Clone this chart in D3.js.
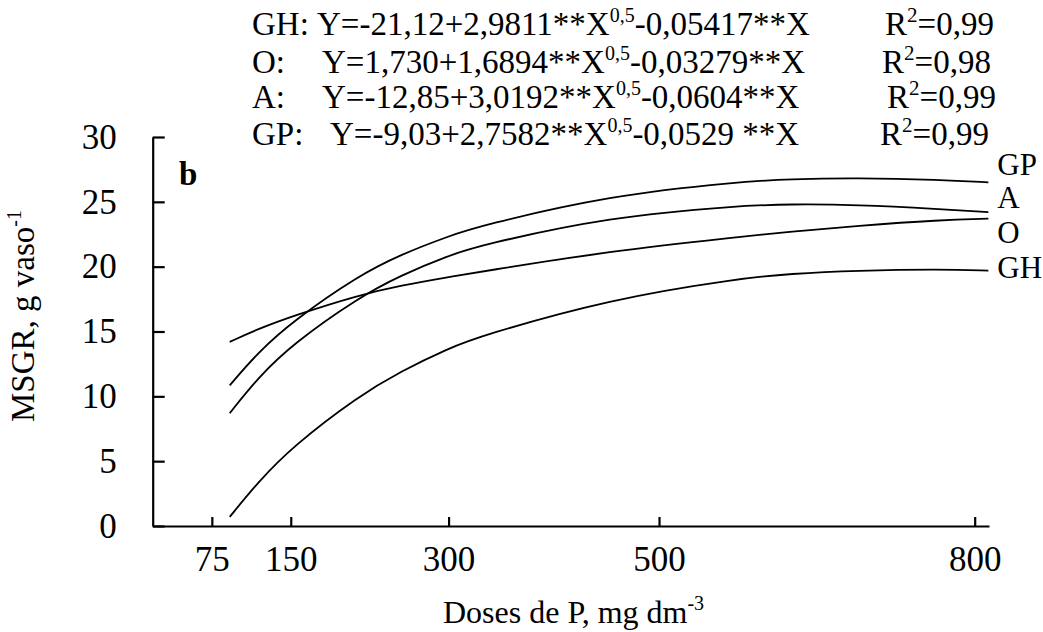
<!DOCTYPE html>
<html>
<head>
<meta charset="utf-8">
<script src="https://cdn.jsdelivr.net/npm/d3@7"></script>
<style>
  body { margin: 0; background: #fff; }
  svg text { font-family: "Liberation Serif", "Times New Roman", serif; fill: #000; }
  .axis path, .axis line { stroke: #000; stroke-width: 2.2; }
  .curve { fill: none; stroke: #000; stroke-width: 1.8; }
</style>
</head>
<body>
<div id="container"></div>
<script>
// doses of P (axis units) where the curves were read
var doses = [92, 119, 152, 214, 255, 300, 330, 453, 577, 624, 688, 767, 813];
// MSGR, g vaso-1
var seriesGH = [0.7, 3.4, 6.15, 10.0, 11.95, 13.7, 14.65, 17.5, 19.1, 19.45, 19.7, 19.8, 19.7];
var seriesO  = [14.2, 15.2, 16.2, 17.8, 18.55, 19.2, 19.6, 21.2, 22.3, 22.7, 23.15, 23.6, 23.7];
var seriesA  = [8.7, 11.45, 14.05, 17.6, 19.35, 20.85, 21.65, 23.85, 24.7, 24.82, 24.78, 24.45, 24.2];
var seriesGP = [10.85, 13.4, 15.8, 19.3, 20.95, 22.35, 23.15, 25.5, 26.55, 26.75, 26.85, 26.7, 26.5];
var seriesNames = ["GP", "A", "O", "GH"];

var xTicks = [75, 150, 300, 500, 800];
var yTicks = [0, 5, 10, 15, 20, 25, 30];

// equation block
var eqNames = ["GH:", "O:", "A:", "GP:"];
var eqStart = ["Y=-21,12+2,9811**X", "Y=1,730+1,6894**X", "Y=-12,85+3,0192**X", "Y=-9,03+2,7582**X"];
var eqEnd = ["-0,05417**X", "-0,03279**X", "-0,0604**X", "-0,0529 **X"];
var r2Values = ["0,99", "0,98", "0,99", "0,99"];

var width = 1043, height = 632;
var svg = d3.select("#container").append("svg")
  .attr("width", width)
  .attr("height", height);

var x = d3.scaleLinear().domain([18.8, 813.6]).range([152.7, 989]);
var y = d3.scaleLinear().domain([0, 30]).range([526, 137]);

// axes
var xAxis = d3.axisBottom(x).tickValues(xTicks).tickFormat(d3.format("d"))
  .tickSizeInner(-9).tickSizeOuter(0).tickPadding(20);
var yAxis = d3.axisLeft(y).tickValues(yTicks).tickFormat(d3.format("d"))
  .tickSizeInner(-12).tickSizeOuter(0).tickPadding(36);

var gx = svg.append("g")
  .attr("class", "x axis")
  .attr("transform", "translate(0," + y(0) + ")")
  .call(xAxis);
gx.selectAll("text").style("font-size", "35px");

var gy = svg.append("g")
  .attr("class", "y axis")
  .attr("transform", "translate(" + x.range()[0] + ",0)")
  .call(yAxis);
gy.selectAll("text").style("font-size", "35px");

// curves
var data = {
  GH: seriesGH, O: seriesO, A: seriesA, GP: seriesGP
};
var line = d3.line()
  .x(function (d) { return x(d[0]); })
  .y(function (d) { return y(d[1]); })
  .curve(d3.curveBasis);

// label nudges so they sit like the original
var labelDy = { GP: -7, A: -4, O: 24, GH: 7 };

seriesNames.forEach(function (name) {
  var pts = doses.map(function (dd, i) { return [dd, data[name][i]]; });
  svg.append("path")
    .attr("class", "curve")
    .attr("d", line(pts));
  var last = pts[pts.length - 1];
  svg.append("text")
    .attr("x", x(last[0]) + 9)
    .attr("y", y(last[1]) + labelDy[name])
    .style("font-size", "31px")
    .text(name);
});

// panel letter
svg.append("text")
  .attr("x", 179)
  .attr("y", 185)
  .style("font-size", "33px")
  .style("font-weight", "bold")
  .text("b");

// equations
var eqBase = [34.5, 72.5, 107.5, 145];
var eqYx = [317, 322, 322, 330];
var eqRx = [885, 882, 887, 880];
eqNames.forEach(function (nm, i) {
  svg.append("text").attr("x", 252).attr("y", eqBase[i])
    .style("font-size", "33px").text(nm);
  var t = svg.append("text").attr("x", eqYx[i]).attr("y", eqBase[i])
    .style("font-size", "33px");
  t.append("tspan").text(eqStart[i]);
  t.append("tspan").attr("dy", -13).style("font-size", "20px").text("0,5");
  t.append("tspan").attr("dy", 13).text(eqEnd[i]);
  var r = svg.append("text").attr("x", eqRx[i]).attr("y", eqBase[i])
    .style("font-size", "33px");
  r.append("tspan").text("R");
  r.append("tspan").attr("dy", -13).style("font-size", "21px").text("2");
  r.append("tspan").attr("dy", 13).text("=" + r2Values[i]);
});

// axis titles
var xt = svg.append("text").attr("x", 443).attr("y", 623).style("font-size", "32px");
xt.append("tspan").text("Doses de P, mg dm");
xt.append("tspan").attr("dy", -13).style("font-size", "20px").text("-3");

var yt = svg.append("text")
  .attr("transform", "translate(34,316) rotate(-90)")
  .attr("text-anchor", "middle")
  .style("font-size", "33px");
yt.append("tspan").text("MSGR, g vaso");
yt.append("tspan").attr("dy", -13).style("font-size", "20px").text("-1");
</script>
</body>
</html>
